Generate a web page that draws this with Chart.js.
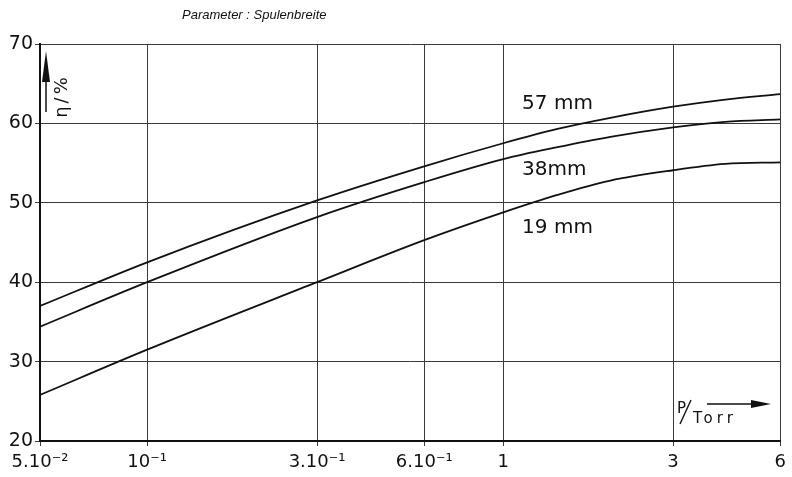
<!DOCTYPE html>
<html>
<head>
<meta charset="utf-8">
<script src="https://cdn.jsdelivr.net/npm/chart.js@4/dist/chart.umd.min.js"></script>
<style>
  html, body { margin: 0; padding: 0; background: #fff; }
  #wrap { width: 792px; height: 477px; }
</style>
</head>
<body>
<div id="wrap"><canvas id="c" width="792" height="477"></canvas></div>
<script>
// Pressure p in Torr (log axis) and efficiency η in % for three coil widths
const pressureTorr = [0.05, 0.1, 0.3, 0.6, 1, 1.42, 2, 3, 4.2, 6];
const eta57mm = [37.0, 42.5, 50.3, 54.6, 57.5, 59.3, 60.7, 62.1, 63.0, 63.7];
const eta38mm = [34.4, 40.0, 48.2, 52.6, 55.5, 57.0, 58.3, 59.5, 60.2, 60.5];
const eta19mm = [25.8, 31.5, 40.0, 45.3, 48.8, 51.0, 52.8, 54.1, 54.9, 55.1];

const seriesNames = ['57 mm', '38mm', '19 mm'];

const xTickValues = [0.05, 0.1, 0.3, 0.6, 1, 3, 6];
const xTickLabels = ['5.10\u207B\u00B2', '10\u207B\u00B9', '3.10\u207B\u00B9', '6.10\u207B\u00B9', '1', '3', '6'];
const yTickValues = [20, 30, 40, 50, 60, 70];

const INK = '#111';
const GRID = '#3a3a3a';

function points(values) {
  return pressureTorr.map((p, i) => ({ x: p, y: values[i] }));
}

function curve(label, values) {
  return {
    label,
    data: points(values),
    showLine: true,
    borderColor: INK,
    borderWidth: 1.8,
    pointRadius: 0,
    cubicInterpolationMode: 'monotone',
    fill: false
  };
}

// Curve names, axis quantities with arrows, and the parameter heading
const annotations = {
  id: 'annotations',
  afterDraw(chart) {
    const { ctx, scales: { x, y } } = chart;
    ctx.save();
    ctx.fillStyle = INK;
    ctx.strokeStyle = INK;

    // heading
    ctx.font = 'italic 13px "Liberation Sans"';
    ctx.textBaseline = 'alphabetic';
    ctx.textAlign = 'left';
    ctx.fillText('Parameter : Spulenbreite', 182, 19);

    // curve names, placed in data coordinates
    ctx.font = '20px "DejaVu Sans"';
    const labelP = 1.13;
    const labelEta = [61.8, 53.5, 46.2];
    seriesNames.forEach((name, i) => {
      ctx.fillText(name, x.getPixelForValue(labelP), y.getPixelForValue(labelEta[i]));
    });

    // y quantity: upward arrow with rotated η/%
    ctx.lineWidth = 1.5;
    ctx.beginPath();
    ctx.moveTo(46, 112);
    ctx.lineTo(46, 70);
    ctx.stroke();
    ctx.beginPath();
    ctx.moveTo(46, 51);
    ctx.lineTo(50, 82);
    ctx.lineTo(42, 82);
    ctx.closePath();
    ctx.fill();

    ctx.save();
    ctx.translate(62, 96);
    ctx.rotate(-Math.PI / 2);
    ctx.font = '18px "DejaVu Sans"';
    ctx.textAlign = 'center';
    ctx.textBaseline = 'middle';
    ctx.letterSpacing = '3px';
    ctx.fillText('\u03B7/%', 0, 0);
    ctx.restore();

    // x quantity: P/Torr with rightward arrow
    ctx.font = '15px "DejaVu Sans"';
    ctx.textAlign = 'left';
    ctx.textBaseline = 'alphabetic';
    ctx.fillText('P', 677, 413);
    ctx.lineWidth = 1.4;
    ctx.beginPath();
    ctx.moveTo(680, 424);
    ctx.lineTo(691, 400);
    ctx.stroke();
    ctx.font = '15px "DejaVu Sans"';
    ctx.letterSpacing = '4px';
    ctx.fillText('Torr', 693, 423);
    ctx.letterSpacing = '0px';

    ctx.lineWidth = 1.6;
    ctx.beginPath();
    ctx.moveTo(707, 404);
    ctx.lineTo(755, 404);
    ctx.stroke();
    ctx.beginPath();
    ctx.moveTo(771, 404);
    ctx.lineTo(751, 400);
    ctx.lineTo(751, 408);
    ctx.closePath();
    ctx.fill();

    ctx.restore();
  }
};

new Chart(document.getElementById('c'), {
  type: 'scatter',
  data: {
    datasets: [
      curve(seriesNames[0], eta57mm),
      curve(seriesNames[1], eta38mm),
      curve(seriesNames[2], eta19mm)
    ]
  },
  options: {
    responsive: false,
    animation: false,
    devicePixelRatio: 1,
    layout: { padding: { top: 44, right: 9, left: 0, bottom: 0 } },
    plugins: {
      legend: { display: false },
      tooltip: { enabled: false },
      title: { display: false }
    },
    scales: {
      x: {
        type: 'logarithmic',
        min: 0.05,
        max: 6,
        afterBuildTicks: s => { s.ticks = xTickValues.map(v => ({ value: v })); },
        afterFit: s => { s.height = 36; },
        ticks: {
          autoSkip: false,
          maxRotation: 0,
          callback: v => xTickLabels[xTickValues.indexOf(v)],
          font: { family: 'DejaVu Sans', size: 18 },
          color: INK,
          padding: 6
        },
        grid: { color: GRID, lineWidth: 1, tickLength: 5 },
        border: { display: true, color: INK, width: 2 }
      },
      y: {
        min: 20,
        max: 70,
        afterBuildTicks: s => { s.ticks = yTickValues.map(v => ({ value: v })); },
        afterFit: s => { s.width = 40; },
        ticks: {
          font: { family: 'DejaVu Sans', size: 19 },
          color: INK,
          padding: 2
        },
        grid: { color: GRID, lineWidth: 1, tickLength: 5 },
        border: { display: true, color: INK, width: 2 }
      }
    }
  },
  plugins: [annotations]
});
</script>
</body>
</html>
